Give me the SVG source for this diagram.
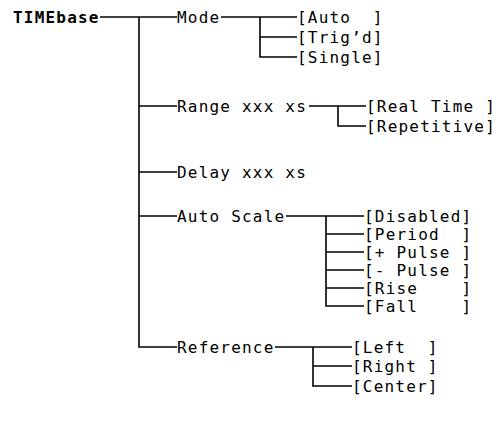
<svg xmlns="http://www.w3.org/2000/svg" width="501" height="423" viewBox="0 0 501 423">
<style>
text{font-family:"DejaVu Sans Mono","Liberation Mono",monospace;font-size:16px;letter-spacing:1.2px;fill:#000;white-space:pre}
.b{font-weight:bold}
.c line,.c path{stroke:#000;stroke-width:1.6;fill:none}
</style>
<rect width="501" height="423" fill="#fff"/>
<g class="c" id="connectors">
<path d="M100 17H177"/>
<path d="M139 17V347H177"/>
<path d="M139 106H177"/>
<path d="M139 172H177"/>
<path d="M139 216H177"/>
<path d="M221 17H297"/>
<path d="M260 17V57H297"/>
<path d="M260 37H297"/>
<path d="M309 106H366"/>
<path d="M338 106V126H366"/>
<path d="M286 216H364"/>
<path d="M326 216V306H364"/>
<path d="M326 234H364"/><path d="M326 252H364"/><path d="M326 270H364"/><path d="M326 288H364"/>
<path d="M275 347H352"/>
<path d="M313 347V386H352"/>
<path d="M313 366H352"/>
</g>
<g id="timebase"><text class="b" x="13" y="23">TIMEbase</text></g>
<g id="mode"><text x="177" y="23">Mode</text></g>
<g id="mode-auto"><text x="297" y="23" xml:space="preserve">[Auto  ]</text></g>
<g id="mode-trigd"><text x="297" y="43">[Trig’d]</text></g>
<g id="mode-single"><text x="297" y="63">[Single]</text></g>
<g id="range"><text x="177" y="112">Range xxx xs</text></g>
<g id="range-real"><text x="366" y="112" xml:space="preserve">[Real Time ]</text></g>
<g id="range-rep"><text x="366" y="132">[Repetitive]</text></g>
<g id="delay"><text x="177" y="178">Delay xxx xs</text></g>
<g id="autoscale"><text x="177" y="222">Auto Scale</text></g>
<g id="as-disabled"><text x="364" y="222">[Disabled]</text></g>
<g id="as-period"><text x="364" y="240" xml:space="preserve">[Period  ]</text></g>
<g id="as-ppulse"><text x="364" y="258" xml:space="preserve">[+ Pulse ]</text></g>
<g id="as-mpulse"><text x="364" y="276" xml:space="preserve">[- Pulse ]</text></g>
<g id="as-rise"><text x="364" y="294" xml:space="preserve">[Rise    ]</text></g>
<g id="as-fall"><text x="364" y="312" xml:space="preserve">[Fall    ]</text></g>
<g id="reference"><text x="177" y="353">Reference</text></g>
<g id="ref-left"><text x="352" y="353" xml:space="preserve">[Left  ]</text></g>
<g id="ref-right"><text x="352" y="372" xml:space="preserve">[Right ]</text></g>
<g id="ref-center"><text x="352" y="392">[Center]</text></g>
</svg>
